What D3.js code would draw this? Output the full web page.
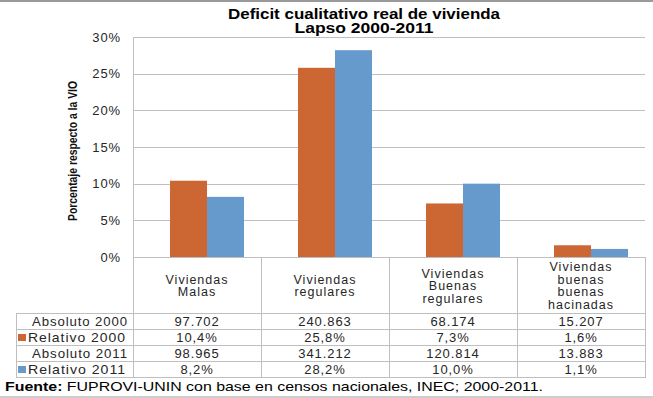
<!DOCTYPE html>
<html>
<head>
<meta charset="utf-8">
<title>Deficit cualitativo real de vivienda</title>
<style>
body {
  margin: 0;
  background: #fff;
  font-family: "Liberation Sans", Arial, sans-serif;
}
svg { display: block; }
.grid line { stroke: #bfbfbf; stroke-width: 1px; }
.tbl line { stroke: #bfbfbf; stroke-width: 1px; }
text { fill: #262626; }
.cell { font-size: 13px; letter-spacing: 0.9px; }
.head { font-size: 12.5px; letter-spacing: 1px; }
</style>
<script src="https://d3js.org/d3.v7.min.js"></script>
</head>
<body>
<div id="result"></div>
<script>
var categories = [
  ["Viviendas", "Malas"],
  ["Viviendas", "regulares"],
  ["Viviendas", "Buenas", "regulares"],
  ["Viviendas", "buenas", "buenas", "hacinadas"]
];
var rowLabels = ["Absoluto 2000", "Relativo 2000", "Absoluto 2011", "Relativo 2011"];
var absoluto2000 = ["97.702", "240.863", "68.174", "15.207"];
var relativo2000 = [10.4, 25.8, 7.3, 1.6];
var absoluto2011 = ["98.965", "341.212", "120.814", "13.883"];
var relativo2011 = [8.2, 28.2, 10.0, 1.1];
var yTicks = [0, 5, 10, 15, 20, 25, 30];

var W = 653, H = 398;
var plotL = 133, plotR = 645, plotT = 37, plotB = 257;
var tableRows = [313, 329, 345, 361, 377];
var colors = {"Relativo 2000": "#cc6633", "Relativo 2011": "#6699cc"};
var fmt = d => d.toFixed(1).replace(".", ",") + "%";

var svg = d3.select("#result").append("svg").attr("width", W).attr("height", H);

// frame lines
svg.append("line").attr("x1", 0).attr("x2", W).attr("y1", 1).attr("y2", 1).attr("stroke", "#9a9a9a").attr("stroke-width", 2);
svg.append("line").attr("x1", 0).attr("x2", W).attr("y1", 397).attr("y2", 397).attr("stroke", "#bdbdbd").attr("stroke-width", 1.5);

var keys = categories.map((c, i) => "c" + i);
var x = d3.scaleBand().domain(keys).range([plotL, plotR]);
var xBars = d3.scaleBand().domain(keys).range([plotL + 10, plotR + 10]);
var xInner = d3.scaleBand().domain(["Relativo 2000", "Relativo 2011"]).range([0, 74]);
var y = d3.scaleLinear().domain([0, 30]).range([plotB, plotT]);

// gridlines
var grid = svg.append("g").attr("class", "grid");
grid.selectAll("line").data(yTicks).enter().append("line")
  .attr("x1", plotL).attr("x2", plotR)
  .attr("y1", d => Math.round(y(d)) + 0.5).attr("y2", d => Math.round(y(d)) + 0.5);

// y axis labels
svg.append("g").selectAll("text").data(yTicks).enter().append("text")
  .attr("class", "cell")
  .attr("x", 121).attr("y", d => y(d) + 4.5)
  .attr("text-anchor", "end")
  .text(d => d + "%");

svg.append("text")
  .attr("transform", "translate(77,151) rotate(-90)")
  .attr("text-anchor", "middle")
  .attr("textLength", 140).attr("lengthAdjust", "spacingAndGlyphs")
  .style("font-size", "13px").style("font-weight", "bold")
  .style("fill", "#111")
  .text("Porcentaje respecto a la VIO");

// bars
var series = [
  {name: "Relativo 2000", values: relativo2000},
  {name: "Relativo 2011", values: relativo2011}
];
var barGroups = svg.append("g").selectAll("g").data(series).enter().append("g")
  .attr("fill", d => colors[d.name]);
barGroups.selectAll("rect").data(d => d.values.map((v, i) => ({name: d.name, v: v, k: keys[i]})))
  .enter().append("rect")
  .attr("x", d => xBars(d.k) + xBars.bandwidth() / 2 - 37 + xInner(d.name))
  .attr("width", xInner.bandwidth())
  .attr("y", d => y(d.v))
  .attr("height", d => y(0) - y(d.v));

// table
var tbl = svg.append("g").attr("class", "tbl");
var vx = [plotL].concat(keys.map(k => x(k) + x.bandwidth()));
tbl.selectAll("line.v").data(vx).enter().append("line").attr("class", "v")
  .attr("x1", d => Math.round(d) + 0.5).attr("x2", d => Math.round(d) + 0.5)
  .attr("y1", (d, i) => i == 0 ? plotT : plotB).attr("y2", tableRows[4] + 0.5);
tbl.append("line").attr("x1", 16.5).attr("x2", 16.5).attr("y1", tableRows[0] + 0.5).attr("y2", tableRows[4] + 0.5);
tbl.selectAll("line.h").data(tableRows).enter().append("line").attr("class", "h")
  .attr("x1", 16).attr("x2", plotR + 1)
  .attr("y1", d => d + 0.5).attr("y2", d => d + 0.5);

// header category labels
keys.forEach((k, i) => {
  var lines = categories[i];
  var lh = 12.5;
  var cy = 286 - (lines.length - 1) * lh / 2;
  var t = svg.append("text").attr("class", "head").attr("text-anchor", "middle");
  lines.forEach((ln, j) => {
    t.append("tspan").attr("x", x(k) + x.bandwidth() / 2).attr("y", cy + j * lh + 4).text(ln);
  });
});

// rows
var rowData = [absoluto2000, relativo2000.map(fmt), absoluto2011, relativo2011.map(fmt)];
rowLabels.forEach((lab, r) => {
  var cy = (tableRows[r] + tableRows[r + 1]) / 2 + 5;
  var keyed = !!colors[lab];
  svg.append("text").attr("class", "cell")
    .attr("x", keyed ? 28 : 32).attr("y", cy)
    .attr("textLength", keyed ? 98 : 96).attr("lengthAdjust", "spacingAndGlyphs")
    .text(lab);
  if (keyed) {
    svg.append("rect").attr("x", 18).attr("y", cy - 8).attr("width", 8).attr("height", 7).attr("fill", colors[lab]);
  }
  rowData[r].forEach((v, i) => {
    svg.append("text").attr("class", "cell").attr("x", x(keys[i]) + x.bandwidth() / 2).attr("y", cy)
      .attr("text-anchor", "middle").text(v);
  });
});

// title
svg.append("text").attr("x", 364).attr("y", 18.5).attr("text-anchor", "middle")
  .attr("textLength", 272).attr("lengthAdjust", "spacingAndGlyphs")
  .style("font-weight", "bold").style("font-size", "14px").style("fill", "#000")
  .text("Deficit cualitativo real de vivienda");
svg.append("text").attr("x", 364).attr("y", 33).attr("text-anchor", "middle")
  .attr("textLength", 139).attr("lengthAdjust", "spacingAndGlyphs")
  .style("font-weight", "bold").style("font-size", "14px").style("fill", "#000")
  .text("Lapso 2000-2011");

// footer
var foot = svg.append("text").attr("x", 5).attr("y", 391)
  .attr("textLength", 538).attr("lengthAdjust", "spacingAndGlyphs")
  .style("font-size", "13px");
foot.append("tspan").style("font-weight", "bold").style("fill", "#000").text("Fuente:");
foot.append("tspan").style("fill", "#000").text(" FUPROVI-UNIN con base en censos nacionales, INEC; 2000-2011.");
</script>
</body>
</html>
